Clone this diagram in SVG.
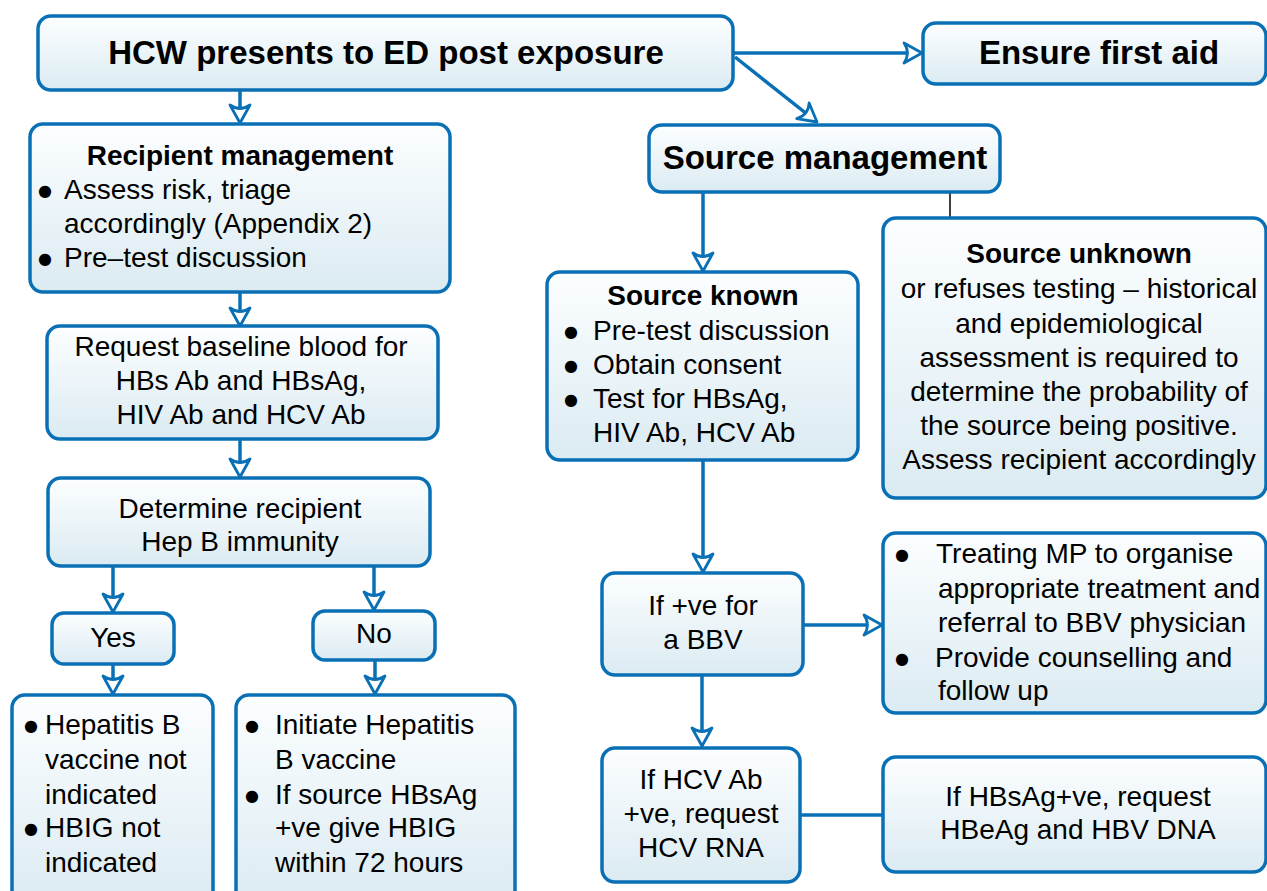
<svg xmlns="http://www.w3.org/2000/svg" width="1267" height="891" viewBox="0 0 1267 891">
<defs>
<linearGradient id="g" x1="0" y1="0" x2="0" y2="1">
<stop offset="0" stop-color="#fcfeff"/>
<stop offset="1" stop-color="#dbebf2"/>
</linearGradient>
<marker id="arr" viewBox="0 0 24 24" markerWidth="24" markerHeight="24" refX="22" refY="12" orient="auto" markerUnits="userSpaceOnUse">
<path d="M4,2 L22,12 L4,22 Q11,12 4,2 Z" fill="#ffffff" stroke="#0a70b6" stroke-width="2.8" stroke-linejoin="round"/>
</marker>
<style>
.box{fill:url(#g);stroke:#0a70b6;stroke-width:3.5}
.t{font-family:"Liberation Sans",Arial,sans-serif;font-size:28px;fill:#000}
.c{text-anchor:middle}
.b{font-weight:bold}
.big{font-size:33px;font-weight:bold}
.bu{font-family:"DejaVu Sans",sans-serif;font-size:16px;text-anchor:middle;fill:#000}
.ln{stroke:#0a70b6;stroke-width:3.5;fill:none}
</style>
</defs>

<g id="connectors">
<line class="ln" x1="733" y1="53" x2="922" y2="53" marker-end="url(#arr)"/>
<line class="ln" x1="735" y1="57" x2="817" y2="122" marker-end="url(#arr)"/>
<line class="ln" x1="240" y1="90" x2="240" y2="123" marker-end="url(#arr)"/>
<line class="ln" x1="240" y1="292" x2="240" y2="326" marker-end="url(#arr)"/>
<line class="ln" x1="240" y1="439" x2="240" y2="477" marker-end="url(#arr)"/>
<line class="ln" x1="113" y1="566" x2="113" y2="612" marker-end="url(#arr)"/>
<line class="ln" x1="374" y1="566" x2="374" y2="610" marker-end="url(#arr)"/>
<line class="ln" x1="113" y1="664" x2="113" y2="694" marker-end="url(#arr)"/>
<line class="ln" x1="375" y1="660" x2="375" y2="694" marker-end="url(#arr)"/>
<line class="ln" x1="703" y1="192" x2="703" y2="271" marker-end="url(#arr)"/>
<line x1="950" y1="192" x2="950" y2="218" stroke="#000" stroke-width="1.5"/>
<line class="ln" x1="703" y1="460" x2="703" y2="572" marker-end="url(#arr)"/>
<line class="ln" x1="803" y1="625" x2="882" y2="625" marker-end="url(#arr)"/>
<line class="ln" x1="702" y1="675" x2="702" y2="746" marker-end="url(#arr)"/>
<line class="ln" x1="800" y1="815" x2="883" y2="815"/>
</g>

<g id="hcw">
<rect class="box" x="38" y="16" width="695" height="74" rx="13"/>
<text class="t big c" x="386" y="64">HCW presents to ED post exposure</text>
</g>

<g id="firstaid">
<rect class="box" x="923" y="23" width="343" height="61" rx="13"/>
<text class="t big c" x="1099" y="64">Ensure first aid</text>
</g>

<g id="recipient">
<rect class="box" x="30" y="124" width="420" height="168" rx="13"/>
<text class="t b c" x="240" y="165">Recipient management</text>
<text class="bu" x="45" y="196">●</text>
<text class="t" x="64" y="199">Assess risk, triage</text>
<text class="t" x="64" y="233">accordingly (Appendix 2)</text>
<text class="bu" x="45" y="264">●</text>
<text class="t" x="64" y="267">Pre–test discussion</text>
</g>

<g id="request">
<rect class="box" x="47" y="326" width="391" height="113" rx="13"/>
<text class="t c" x="241" y="356">Request baseline blood for</text>
<text class="t c" x="241" y="390">HBs Ab and HBsAg,</text>
<text class="t c" x="241" y="424">HIV Ab and HCV Ab</text>
</g>

<g id="determine">
<rect class="box" x="48" y="478" width="382" height="88" rx="13"/>
<text class="t c" x="240" y="518">Determine recipient</text>
<text class="t c" x="240" y="551">Hep B immunity</text>
</g>

<g id="yes">
<rect class="box" x="52" y="613" width="122" height="51" rx="12"/>
<text class="t c" x="113" y="647">Yes</text>
</g>

<g id="no">
<rect class="box" x="313" y="611" width="122" height="49" rx="12"/>
<text class="t c" x="374" y="643">No</text>
</g>

<g id="notindicated">
<rect class="box" x="12" y="695" width="201" height="210" rx="13"/>
<text class="bu" x="31" y="731">●</text>
<text class="t" x="45" y="734">Hepatitis B</text>
<text class="t" x="45" y="769">vaccine not</text>
<text class="t" x="45" y="804">indicated</text>
<text class="bu" x="31" y="834">●</text>
<text class="t" x="45" y="837">HBIG not</text>
<text class="t" x="45" y="872">indicated</text>
</g>

<g id="initiate">
<rect class="box" x="236" y="695" width="279" height="210" rx="13"/>
<text class="bu" x="252" y="731">●</text>
<text class="t" x="275" y="734">Initiate Hepatitis</text>
<text class="t" x="275" y="769">B vaccine</text>
<text class="bu" x="252" y="801">●</text>
<text class="t" x="275" y="804">If source HBsAg</text>
<text class="t" x="275" y="837">+ve give HBIG</text>
<text class="t" x="275" y="872">within 72 hours</text>
</g>

<g id="sourcemgmt">
<rect class="box" x="649" y="125" width="351" height="67" rx="13"/>
<text class="t big c" x="825" y="169">Source management</text>
</g>

<g id="sourceknown">
<rect class="box" x="547" y="272" width="311" height="188" rx="13"/>
<text class="t b c" x="703" y="305">Source known</text>
<text class="bu" x="571" y="337">●</text>
<text class="t" x="593" y="340">Pre-test discussion</text>
<text class="bu" x="571" y="371">●</text>
<text class="t" x="593" y="374">Obtain consent</text>
<text class="bu" x="571" y="405">●</text>
<text class="t" x="593" y="408">Test for HBsAg,</text>
<text class="t" x="593" y="442">HIV Ab, HCV Ab</text>
</g>

<g id="sourceunknown">
<rect class="box" x="883" y="218" width="383" height="280" rx="13"/>
<text class="t b c" x="1079" y="263">Source unknown</text>
<text class="t c" x="1079" y="298">or refuses testing – historical</text>
<text class="t c" x="1079" y="333">and epidemiological</text>
<text class="t c" x="1079" y="367">assessment is required to</text>
<text class="t c" x="1079" y="401">determine the probability of</text>
<text class="t c" x="1079" y="435">the source being positive.</text>
<text class="t c" x="1079" y="469">Assess recipient accordingly</text>
</g>

<g id="ifpositive">
<rect class="box" x="602" y="573" width="201" height="102" rx="13"/>
<text class="t c" x="703" y="615">If +ve for</text>
<text class="t c" x="703" y="649">a BBV</text>
</g>

<g id="treating">
<rect class="box" x="883" y="533" width="383" height="180" rx="13"/>
<text class="bu" x="902" y="560">●</text>
<text class="t" x="936" y="563">Treating MP to organise</text>
<text class="t" x="938" y="598">appropriate treatment and</text>
<text class="t" x="938" y="632">referral to BBV physician</text>
<text class="bu" x="902" y="664">●</text>
<text class="t" x="935" y="667">Provide counselling and</text>
<text class="t" x="938" y="700">follow up</text>
</g>

<g id="hcv">
<rect class="box" x="602" y="748" width="198" height="134" rx="13"/>
<text class="t c" x="701" y="789">If HCV Ab</text>
<text class="t c" x="701" y="823">+ve, request</text>
<text class="t c" x="701" y="857">HCV RNA</text>
</g>

<g id="hbsag">
<rect class="box" x="883" y="757" width="383" height="115" rx="13"/>
<text class="t c" x="1078" y="806">If HBsAg+ve, request</text>
<text class="t c" x="1078" y="839">HBeAg and HBV DNA</text>
</g>
</svg>
